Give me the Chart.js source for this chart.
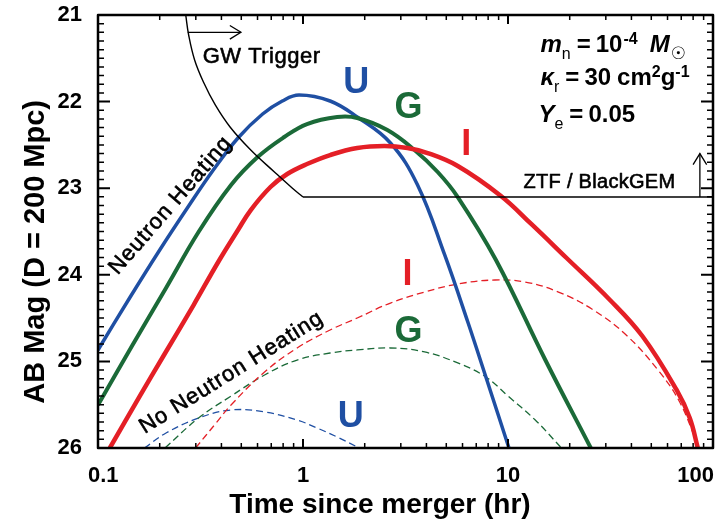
<!DOCTYPE html>
<html><head><meta charset="utf-8">
<script src="https://cdn.jsdelivr.net/npm/chart.js@4.4.1/dist/chart.umd.min.js"></script>
<style>html,body{margin:0;padding:0;background:#fff;}#wrap{width:724px;height:525px;}</style>
</head><body><div id="wrap"><canvas id="c" width="724" height="525"></canvas></div>
<script>
// ---- axis ticks ----
const xTickValues = [0.1, 1, 10, 100];
const xTickLabels = ['0.1', '1', '10', '100'];
const yTickValues = [21, 22, 23, 24, 25, 26];

// ---- with neutron heating (solid) ----
const uHeatT   = [0.1, 0.1426, 0.1986, 0.2768, 0.3651, 0.4817, 0.6353, 0.7925, 0.9567, 1.356, 1.839, 2.670, 3.621, 4.912, 6.368, 7.801, 10.11];
const uHeatMag = [24.868, 24.268, 23.725, 23.206, 22.790, 22.420, 22.143, 21.993, 21.924, 21.993, 22.178, 22.478, 22.963, 23.771, 24.545, 25.180, 26.0];
const gHeatT   = [0.1, 0.1474, 0.2147, 0.3093, 0.4457, 0.6008, 0.8102, 1.046, 1.468, 1.839, 2.580, 3.500, 4.539, 5.687, 8.734, 15.21, 25.34];
const gHeatMag = [25.503, 24.811, 24.152, 23.506, 22.963, 22.640, 22.409, 22.259, 22.178, 22.189, 22.328, 22.559, 22.813, 23.102, 23.829, 24.984, 26.0];
const iHeatT   = [0.1142, 0.1591, 0.2099, 0.2926, 0.3859, 0.4817, 0.5561, 0.6940, 0.8377, 1.046, 1.356, 1.839, 2.495, 3.234, 4.055, 5.687, 9.241, 12.98, 19.31, 31.09, 45.21, 66.46, 77.03, 84.35];
const iHeatMag = [26.0, 25.411, 24.926, 24.349, 23.852, 23.483, 23.252, 22.986, 22.836, 22.721, 22.617, 22.536, 22.513, 22.536, 22.594, 22.744, 23.090, 23.413, 23.806, 24.279, 24.707, 25.330, 25.654, 26.0];

// ---- no neutron heating (dashed) ----
const uNoT   = [0.1683, 0.2147, 0.3093, 0.4457, 0.6494, 0.9358, 1.171, 1.468, 1.882];
const uNoMag = [26.0, 25.827, 25.654, 25.561, 25.584, 25.677, 25.769, 25.873, 26.0];
const gNoT   = [0.2123, 0.3093, 0.4457, 0.6494, 0.9358, 1.356, 1.839, 2.670, 3.919, 5.687, 7.801, 10.0, 13.58, 18.04];
const gNoMag = [26.0, 25.654, 25.400, 25.157, 24.984, 24.903, 24.868, 24.845, 24.891, 25.018, 25.180, 25.400, 25.677, 25.988];
const iNoT   = [0.2992, 0.3733, 0.4457, 0.6494, 0.9358, 1.356, 1.839, 2.670, 3.919, 5.687, 8.636, 12.12, 17.63, 25.64, 37.71, 54.82, 68.78, 83.4, 86.3];
const iNoMag = [26.0, 25.723, 25.503, 25.122, 24.845, 24.637, 24.499, 24.326, 24.199, 24.106, 24.060, 24.083, 24.199, 24.395, 24.695, 25.122, 25.469, 25.931, 26.0];

// ---- GW trigger curve and ZTF/BlackGEM limit ----
const gwT   = [0.2679, 0.2768, 0.2960, 0.3268, 0.3733, 0.4407, 0.5561, 0.7255, 0.8853, 1.0];
const gwMag = [21.0, 21.231, 21.520, 21.774, 22.039, 22.293, 22.559, 22.813, 22.998, 23.102];
const ztfT   = [1.0, 100];
const ztfMag = [23.102, 23.102];

const FF = "'Liberation Sans', Arial, Helvetica, sans-serif";
const COL = {U: '#1f4fa3', G: '#1b6a38', I: '#e41f26', K: '#000000'};

function pts(t, m) { return t.map((v, i) => ({x: v, y: m[i]})); }

const datasets = [
  {data: pts(gwT, gwMag), borderColor: COL.K, borderWidth: 1.4, order: 0},
  {data: pts(ztfT, ztfMag), borderColor: COL.K, borderWidth: 1.4, order: 0, tension: 0},
  {data: pts(iHeatT, iHeatMag), borderColor: COL.I, borderWidth: 4.5, order: 1},
  {data: pts(gHeatT, gHeatMag), borderColor: COL.G, borderWidth: 4, order: 1},
  {data: pts(uHeatT, uHeatMag), borderColor: COL.U, borderWidth: 3.5, order: 1},
  {data: pts(iNoT, iNoMag), borderColor: COL.I, borderWidth: 1.3, borderDash: [7, 4], order: 2},
  {data: pts(gNoT, gNoMag), borderColor: COL.G, borderWidth: 1.3, borderDash: [7, 4], order: 2},
  {data: pts(uNoT, uNoMag), borderColor: COL.U, borderWidth: 1.3, borderDash: [7, 4], order: 2}
];

const bandLabels = [
  {text: 'U', color: COL.U, t: 1.82, mag: 21.90},
  {text: 'G', color: COL.G, t: 3.27, mag: 22.19},
  {text: 'I', color: COL.I, t: 6.25, mag: 22.62},
  {text: 'I', color: COL.I, t: 3.23, mag: 24.12},
  {text: 'G', color: COL.G, t: 3.27, mag: 24.78},
  {text: 'U', color: COL.U, t: 1.71, mag: 25.76}
];

const paramStartT = 14.4;
const paramLineMag = [21.43, 21.81, 22.24];
const B24 = 'bold 24px ' + FF, I24 = 'italic bold 24px ' + FF, S16 = '16px ' + FF, SB16 = 'bold 16px ' + FF;
const paramLines = [
  [{t: 'm', f: I24}, {t: 'n', f: S16, dy: 7}, {gap: 6}, {t: '=', f: B24}, {gap: 5}, {t: '10', f: B24}, {gap: 1}, {t: '-4', f: SB16, dy: -8}, {gap: 12}, {t: 'M', f: I24}, {gap: 1}, {t: '\u2609', f: "17px 'DejaVu Sans'", dy: 7}],
  [{t: '\u03BA', f: I24}, {t: 'r', f: S16, dy: 7}, {gap: 6}, {t: '=', f: B24}, {gap: 5}, {t: '30', f: B24}, {gap: 6}, {t: 'cm', f: B24}, {t: '2', f: SB16, dy: -8}, {t: 'g', f: B24}, {t: '-1', f: SB16, dy: -8}],
  [{t: 'Y', f: I24}, {t: 'e', f: S16, dy: 7}, {gap: 6}, {t: '=', f: B24}, {gap: 5}, {t: '0.05', f: B24}]
];

const plainTexts = [
  {text: 'GW Trigger', t: 0.324, mag: 21.55, align: 'left', font: '22px ' + FF, spacing: '0.5px', rot: 0},
  {text: 'ZTF / BlackGEM', t: 11.9, mag: 23.0, align: 'left', font: '20px ' + FF, spacing: '0.3px', rot: 0},
  {text: 'Neutron Heating', t: 0.226, mag: 23.20, align: 'center', base: 'middle', font: '22px ' + FF, spacing: '1px', rot: -49},
  {text: 'No Neutron Heating', t: 0.448, mag: 25.13, align: 'center', base: 'middle', font: '22px ' + FF, spacing: '1px', rot: -32}
];

const arrows = [
  {t0: 0.274, m0: 21.20, t1: 0.498, m1: 21.20},
  {t0: 86.3, m0: 23.102, t1: 86.3, m1: 22.60}
];

const xTitle = 'Time since merger (hr)';
const yTitle = 'AB Mag (D = 200 Mpc)';

function drawRich(ctx, x, y, segs) {
  ctx.textAlign = 'left'; ctx.textBaseline = 'alphabetic';
  for (const s of segs) {
    if (s.gap) { x += s.gap; continue; }
    ctx.font = s.f;
    ctx.fillText(s.t, x, y + (s.dy || 0));
    x += ctx.measureText(s.t).width;
  }
}

const decor = {
  id: 'decor',
  afterDraw(chart) {
    const {ctx, chartArea: a, scales: {x, y}} = chart;
    ctx.save();
    // arrows
    ctx.strokeStyle = '#000'; ctx.lineWidth = 1.3;
    for (const ar of arrows) {
      const x0 = x.getPixelForValue(ar.t0), y0 = y.getPixelForValue(ar.m0);
      const x1 = x.getPixelForValue(ar.t1), y1 = y.getPixelForValue(ar.m1);
      const ang = Math.atan2(y1 - y0, x1 - x0), L = 13, W = 0.55;
      ctx.beginPath(); ctx.moveTo(x0, y0); ctx.lineTo(x1, y1); ctx.stroke();
      ctx.beginPath();
      ctx.moveTo(x1 - L * Math.cos(ang - W), y1 - L * Math.sin(ang - W));
      ctx.lineTo(x1, y1);
      ctx.lineTo(x1 - L * Math.cos(ang + W), y1 - L * Math.sin(ang + W));
      ctx.stroke();
    }
    // band labels
    ctx.font = 'bold 36px ' + FF; ctx.textAlign = 'center'; ctx.textBaseline = 'alphabetic';
    for (const b of bandLabels) {
      ctx.fillStyle = b.color;
      ctx.fillText(b.text, x.getPixelForValue(b.t), y.getPixelForValue(b.mag));
    }
    // plain texts (slightly heavier than regular)
    ctx.fillStyle = '#000'; ctx.strokeStyle = '#000'; ctx.lineWidth = 0.6; ctx.lineJoin = 'round';
    for (const p of plainTexts) {
      ctx.save();
      ctx.translate(x.getPixelForValue(p.t), y.getPixelForValue(p.mag));
      ctx.rotate(p.rot * Math.PI / 180);
      ctx.font = p.font; ctx.letterSpacing = p.spacing || '0px';
      ctx.textAlign = p.align; ctx.textBaseline = p.base || 'alphabetic';
      ctx.fillText(p.text, 0, 0);
      ctx.strokeText(p.text, 0, 0);
      ctx.restore();
    }
    // parameter block
    ctx.fillStyle = '#000';
    const px0 = x.getPixelForValue(paramStartT);
    paramLines.forEach((segs, i) => drawRich(ctx, px0 - (i === 2 ? 2 : 0), y.getPixelForValue(paramLineMag[i]), segs));
    // frame
    ctx.strokeStyle = '#000'; ctx.lineWidth = 2.5;
    ctx.strokeRect(a.left, a.top, a.right - a.left, a.bottom - a.top);
    // y ticks (inward, both sides)
    for (let i = 210; i <= 260; i++) {
      const v = i / 10, major = i % 10 === 0, len = major ? 12 : 6;
      const py = y.getPixelForValue(v);
      ctx.lineWidth = major ? 2 : 1.5;
      ctx.beginPath();
      ctx.moveTo(a.left, py); ctx.lineTo(a.left + len, py);
      ctx.moveTo(a.right, py); ctx.lineTo(a.right - len, py);
      ctx.stroke();
    }
    // x ticks (inward, both sides)
    const xt = [];
    for (const d of [0.1, 1, 10]) for (let k = 1; k <= 9; k++) xt.push({v: d * k, major: k === 1});
    xt.push({v: 100, major: true});
    for (const tk of xt) {
      const px = x.getPixelForValue(tk.v), len = tk.major ? 9 : 5;
      ctx.lineWidth = tk.major ? 2 : 1.5;
      ctx.beginPath();
      ctx.moveTo(px, a.bottom); ctx.lineTo(px, a.bottom - len);
      ctx.moveTo(px, a.top); ctx.lineTo(px, a.top + len);
      ctx.stroke();
    }
    // x tick labels
    ctx.fillStyle = '#000'; ctx.font = 'bold 22px ' + FF; ctx.textBaseline = 'alphabetic';
    xTickValues.forEach((v, i) => {
      const px = x.getPixelForValue(v);
      if (i === 0) { ctx.textAlign = 'left'; ctx.fillText(xTickLabels[i], px - 10, a.bottom + 34); }
      else if (i === xTickValues.length - 1) { ctx.textAlign = 'right'; ctx.fillText(xTickLabels[i], px + 1, a.bottom + 34); }
      else { ctx.textAlign = 'center'; ctx.fillText(xTickLabels[i], px, a.bottom + 34); }
    });
    // axis titles
    ctx.font = 'bold 28px ' + FF; ctx.textAlign = 'center'; ctx.textBaseline = 'alphabetic';
    ctx.fillText(xTitle, a.left + (a.right - a.left) * 0.4585, a.bottom + 65);
    ctx.save();
    ctx.translate(44, a.top + (a.bottom - a.top) * 0.547);
    ctx.rotate(-Math.PI / 2);
    ctx.font = 'bold 29px ' + FF;
    ctx.fillText(yTitle, 0, 0);
    ctx.restore();
    ctx.restore();
  }
};

new Chart(document.getElementById('c'), {
  type: 'line',
  data: {datasets},
  options: {
    responsive: false, animation: false, events: [],
    layout: {padding: {left: 0, right: 11, top: 15, bottom: 0}},
    elements: {point: {radius: 0}, line: {fill: false, cubicInterpolationMode: 'default', tension: 0.4}},
    plugins: {legend: {display: false}, tooltip: {enabled: false}, title: {display: false}},
    scales: {
      x: {
        type: 'logarithmic', min: 0.1, max: 100,
        afterBuildTicks: s => { s.ticks = xTickValues.map(v => ({value: v})); },
        afterFit: s => { s.height = 77; s.paddingLeft = 0; s.paddingRight = 0; },
        ticks: {display: false},
        grid: {display: false, drawTicks: false},
        border: {display: false}
      },
      y: {
        type: 'linear', min: 21, max: 26, reverse: true,
        afterBuildTicks: s => { s.ticks = yTickValues.map(v => ({value: v})); },
        afterFit: s => { s.width = 98; s.paddingTop = 0; s.paddingBottom = 0; },
        ticks: {font: {family: FF, size: 22, weight: 'bold'}, color: '#000', padding: 16, callback: v => String(v)},
        grid: {display: false, drawTicks: false},
        border: {display: false}
      }
    }
  },
  plugins: [decor]
});
</script>
</body></html>
